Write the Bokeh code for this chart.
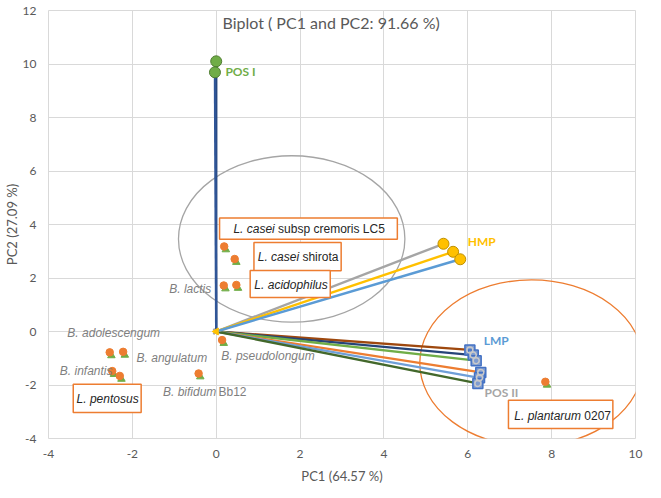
from bokeh.plotting import figure
from bokeh.models import Range1d, FixedTicker, Label, BoxAnnotation, CustomJSTickFormatter
from bokeh.embed import file_html
from bokeh.resources import INLINE

# ---------------- data ----------------
x_ticks = [-4, -2, 0, 2, 4, 6, 8, 10]
y_ticks = [-4, -2, 0, 2, 4, 6, 8, 10, 12]
title_text = "Biplot ( PC1 and PC2: 91.66 %)"
x_title = "PC1 (64.57 %)"
y_title = "PC2 (27.09 %)"

# loading vectors (from origin)
pos1_x = [0.00, -0.03]
pos1_y = [10.10, 9.69]
hmp_x = [5.42, 5.65, 5.82]
hmp_y = [3.28, 2.98, 2.70]
lmp_x = [6.05, 6.13, 6.20, 6.31, 6.28, 6.24]
lmp_y = [-0.69, -0.88, -1.09, -1.53, -1.73, -1.94]

# sample scores (two overlapping series)
score_orange_x = [0.19, 0.44, 0.18, 0.48, 0.14, -0.42, -2.54, -2.22, -2.48, -2.30, 7.85]
score_orange_y = [3.18, 2.71, 1.72, 1.74, -0.32, -1.57, -0.78, -0.76, -1.48, -1.66, -1.88]
score_green_x = [0.23, 0.48, 0.22, 0.52, 0.18, -0.38, -2.50, -2.18, -2.44, -2.26, 7.89]
score_green_y = [3.06, 2.59, 1.60, 1.62, -0.44, -1.69, -0.90, -0.88, -1.60, -1.78, -2.00]

# group labels
group_names = ["POS I", "HMP", "LMP", "POS II"]
group_label_x = [0.22, 6.00, 6.38, 6.40]
group_label_y = [9.71, 3.36, -0.34, -2.27]

# sample names (plain grey labels): italic part, regular part
grey_italic = ["B. lactis", "B. adolescengum", "B. angulatum", "B. infantis", "B. bifidum", "B. pseudolongum"]
grey_regular = ["", "", "", "", "Bb12", ""]
grey_x = [-1.12, -3.55, -1.90, -3.73, -1.27, 0.12]
grey_y = [1.59, -0.04, -1.00, -1.47, -2.25, -0.92]

# sample names in boxes
box_italic = ["L. casei", "L. casei", "L. acidophilus", "L. plantarum", "L. pentosus"]
box_regular = ["subsp cremoris LC5", "shirota", "", "0207", ""]
box_text_x = [0.41, 0.99, 0.91, 7.11, -3.33]
box_text_y = [3.84, 2.78, 1.74, -3.15, -2.53]
box_left = [0.08, 0.90, 0.81, 6.97, -3.41]
box_right = [4.32, 2.98, 2.72, 9.46, -1.79]
box_top = [4.24, 3.33, 2.28, -2.57, -1.97]
box_bottom = [3.45, 2.27, 1.27, -3.63, -3.03]

# highlight ellipses
ell_x = [1.80, 7.52]
ell_y = [3.46, -1.18]
ell_w = [5.40, 5.33]
ell_h = [6.22, 6.22]

# ---------------- styles ----------------
pos1_colors = ["#264478", "#2F5597"]
hmp_colors = ["#A5A5A5", "#FFC000", "#5B9BD5"]
lmp_colors = ["#9E480E", "#264478", "#70AD47", "#ED7D31", "#6F9FD8", "#43682B"]
group_colors = ["#70AD47", "#FFC000", "#5B9BD5", "#A5A5A5"]
ell_colors = ["#A5A5A5", "#ED7D31"]
# pixel offsets of the upright part after the italic part (incl. space)
italic_widths = {"L. casei": 44.7, "B. bifidum": 55.5, "L. plantarum": 70.0}

p = figure(width=661, height=498, output_backend="svg", toolbar_location=None,
           x_range=Range1d(-4, 10), y_range=Range1d(-4, 12),
           min_border_left=47, min_border_right=26, min_border_top=10, min_border_bottom=60,
           styles={"outline": "1px solid #D9D9D9", "outline-offset": "-4px"})
p.title = None
p.background_fill_color = "white"
p.border_fill_color = "white"
p.outline_line_color = "#D9D9D9"

fmt = CustomJSTickFormatter(code="return tick.toString();")
for ax, ticks, lab in ((p.xaxis, x_ticks, x_title), (p.yaxis, y_ticks, y_title)):
    ax.ticker = FixedTicker(ticks=ticks)
    ax.formatter = fmt
    ax.axis_line_color = None
    ax.major_tick_line_color = None
    ax.minor_tick_line_color = None
    ax.major_tick_out = 0
    ax.major_tick_in = 0
    ax.minor_tick_out = 0
    ax.major_label_text_font = "Lato"
    ax.major_label_text_font_size = "12px"
    ax.major_label_text_color = "#595959"
    ax.axis_label = lab
    ax.axis_label_text_font = "Lato"
    ax.axis_label_text_font_size = "13px"
    ax.axis_label_text_font_style = "normal"
    ax.axis_label_text_color = "#595959"
p.xaxis.major_label_standoff = 11
p.xaxis.axis_label_standoff = 7
p.yaxis.major_label_standoff = 12
p.yaxis.axis_label_standoff = 0
p.xgrid.ticker = FixedTicker(ticks=x_ticks)
p.ygrid.ticker = FixedTicker(ticks=y_ticks)
for g in (p.xgrid, p.ygrid):
    g.grid_line_color = "#D9D9D9"
    g.grid_line_width = 1

# ellipses
p.ellipse(x=ell_x, y=ell_y, width=ell_w, height=ell_h, fill_color=None,
          line_color=ell_colors, line_width=1.3)

# vectors
p.segment(x0=[0] * len(lmp_x), y0=[0] * len(lmp_x), x1=lmp_x, y1=lmp_y,
          line_color=lmp_colors, line_width=2.3)
p.segment(x0=[0] * len(hmp_x), y0=[0] * len(hmp_x), x1=hmp_x, y1=hmp_y,
          line_color=hmp_colors, line_width=2.4)
p.segment(x0=[0] * len(pos1_x), y0=[0] * len(pos1_x), x1=pos1_x, y1=pos1_y,
          line_color=pos1_colors, line_width=2.4)

# origin marker
p.scatter([0], [0], marker="x", size=8, line_color="#A5A5A5", line_width=2)
p.scatter([0], [0], marker="triangle", size=7, angle=1.57, fill_color="#FFC000", line_color="#FFC000")

# vector end markers
p.scatter(pos1_x, pos1_y, marker="circle", size=11, fill_color="#70AD47", line_color="#507E32")
p.scatter(hmp_x, hmp_y, marker="circle", size=11, fill_color="#FFC000", line_color="#BF9000")
p.scatter(lmp_x, lmp_y, marker="square", size=10, fill_color="#7F9CD0", line_color="#4472C4", line_width=1.5)
p.scatter(lmp_x, lmp_y, marker="circle", size=6, fill_color=None, line_color="#C9C9C9", line_width=1.5)

# sample scores
p.scatter(score_green_x, score_green_y, marker="triangle", size=7.5, fill_color="#70AD47", line_color="#70AD47")
p.scatter(score_orange_x, score_orange_y, marker="circle", size=7.5, fill_color="#ED7D31", line_color="#ED7D31")

# group labels
for name, gx, gy, c in zip(group_names, group_label_x, group_label_y, group_colors):
    p.add_layout(Label(x=gx, y=gy, text=name, text_font="Lato", text_font_style="bold",
                       text_font_size="12px", text_color=c, text_baseline="middle"))

# grey labels
for it, rg, gx, gy in zip(grey_italic, grey_regular, grey_x, grey_y):
    p.add_layout(Label(x=gx, y=gy, text=it, text_font="Liberation Sans", text_font_style="italic",
                       text_font_size="12px", text_color="#7F7F7F", text_baseline="middle"))
    if rg:
        p.add_layout(Label(x=gx, y=gy, x_offset=italic_widths[it], text=rg, text_font="Liberation Sans",
                           text_font_size="12px", text_color="#7F7F7F", text_baseline="middle"))

# boxed labels
for l, r, t, b in zip(box_left, box_right, box_top, box_bottom):
    p.add_layout(BoxAnnotation(left=l, right=r, top=t, bottom=b, fill_color="white", fill_alpha=1,
                               line_color="#ED7D31", line_width=1.5, line_alpha=1))
for it, rg, bx, by in zip(box_italic, box_regular, box_text_x, box_text_y):
    p.add_layout(Label(x=bx, y=by, text=it, text_font="Liberation Sans", text_font_style="italic",
                       text_font_size="12px", text_color="#262626", text_baseline="middle"))
    if rg:
        p.add_layout(Label(x=bx, y=by, x_offset=italic_widths[it], text=rg, text_font="Liberation Sans",
                           text_font_size="12px", text_color="#262626", text_baseline="middle"))

# chart title inside plot area
p.add_layout(Label(x=2.74, y=11.55, text=title_text, text_font="Lato", text_font_size="16px",
                   text_color="#595959", text_align="center", text_baseline="middle"))

open("out.html", "w").write(file_html(p, INLINE))
